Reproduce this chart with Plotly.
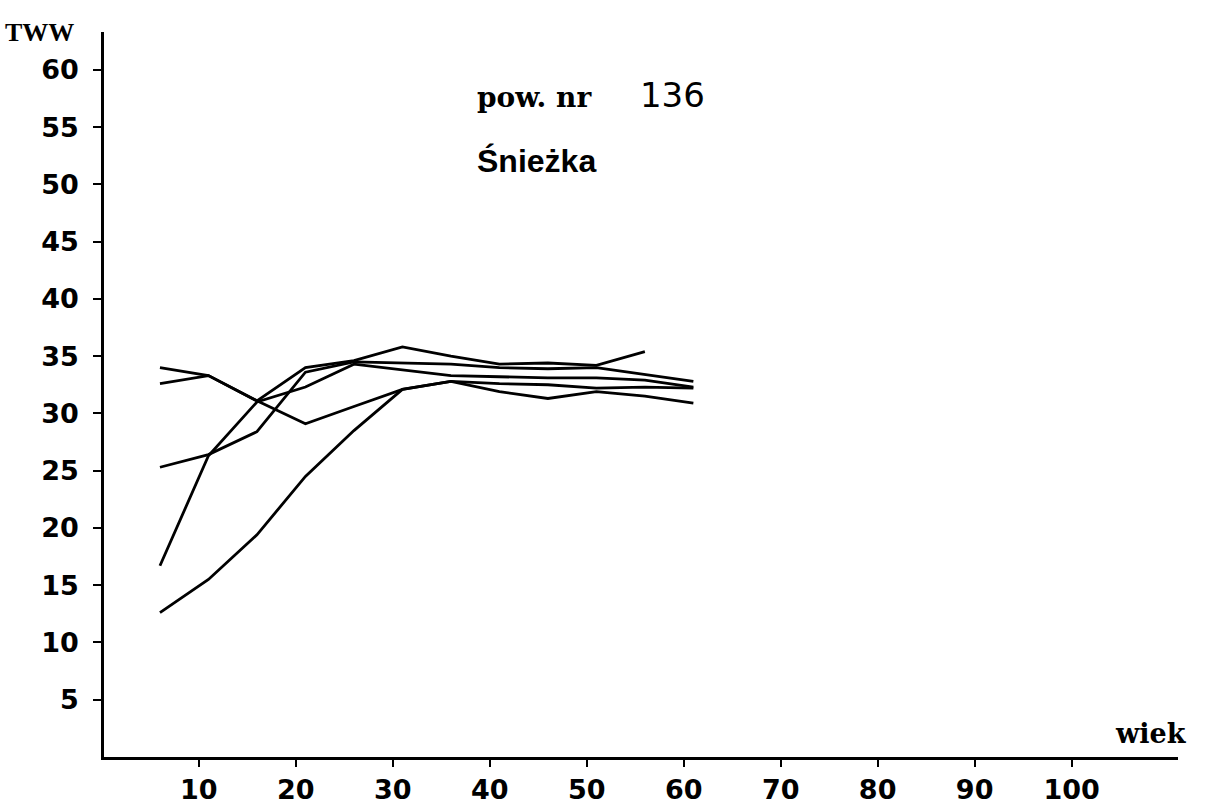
import plotly.graph_objects as go

ages = [6, 11, 16, 21, 26, 31, 36, 41, 46, 51, 56, 61]
s1 = [34.0, 33.3, 31.1, 29.1, 30.6, 32.1, 32.8, 31.9, 31.3, 31.9, 31.5, 30.9]
s2 = [32.6, 33.3, 31.1, 34.0, 34.6, 35.8, 35.0, 34.3, 34.4, 34.2, 35.4, None]
s3 = [25.3, 26.4, 28.4, 33.6, 34.5, 34.4, 34.3, 34.0, 33.9, 34.0, 33.4, 32.8]
s4 = [16.7, 26.3, 31.0, 32.3, 34.3, 33.8, 33.3, 33.2, 33.1, 33.1, 32.9, 32.3]
s5 = [12.6, 15.5, 19.4, 24.5, 28.5, 32.1, 32.8, 32.6, 32.5, 32.2, 32.3, 32.2]
series = [s1, s2, s3, s4, s5]

x_ticks = [10, 20, 30, 40, 50, 60, 70, 80, 90, 100]
y_ticks = [5, 10, 15, 20, 25, 30, 35, 40, 45, 50, 55, 60]

fig = go.Figure()
for s in series:
    fig.add_trace(go.Scatter(x=ages, y=s, mode="lines",
                             line=dict(color="black", width=2.8),
                             connectgaps=False, showlegend=False,
                             hoverinfo="skip"))

tick_font = dict(family="DejaVu Sans", size=27, color="black", weight="bold")

fig.update_layout(
    width=1205, height=808,
    margin=dict(l=104, r=27, t=32, b=51),
    paper_bgcolor="white", plot_bgcolor="white",
    xaxis=dict(range=[0.23, 110.97], tickvals=x_ticks, ticktext=[str(v) for v in x_ticks],
               showline=True, linecolor="black", linewidth=2.5,
               ticks="outside", ticklen=7, tickwidth=2, tickcolor="black",
               ticklabelstandoff=0, automargin=False,
               showgrid=False, zeroline=False, tickfont=tick_font),
    yaxis=dict(range=[0, 63.3], tickvals=y_ticks, ticktext=[str(v) for v in y_ticks],
               showline=True, linecolor="black", linewidth=2.5,
               ticks="outside", ticklen=8, tickwidth=2, tickcolor="black",
               ticklabelstandoff=9, automargin=False,
               showgrid=False, zeroline=False, tickfont=tick_font),
    annotations=[
        dict(text="TWW", xref="paper", yref="paper", x=-0.0596, y=1.0,
             xanchor="center", yanchor="middle", showarrow=False,
             font=dict(family="Liberation Serif", size=26, color="black", weight="bold")),
        dict(text="wiek", xref="paper", yref="paper", x=1.0102, y=0.032,
             xanchor="right", yanchor="middle", showarrow=False,
             font=dict(family="DejaVu Serif", size=27, color="black", weight="bold")),
        dict(text="pow. nr&nbsp;&nbsp;&nbsp;&nbsp;&nbsp;<span style='font-family:DejaVu Sans;font-weight:normal;font-size:34px'>136</span>",
             xref="paper", yref="paper", x=0.345, y=0.913,
             xanchor="left", yanchor="middle", showarrow=False,
             font=dict(family="DejaVu Serif", size=28, color="black", weight="bold")),
        dict(text="Śnieżka", xref="paper", yref="paper", x=0.345, y=0.822,
             xanchor="left", yanchor="middle", showarrow=False,
             font=dict(family="Liberation Sans", size=32, color="black", weight="bold")),
    ],
)

fig.write_html("out.html")
